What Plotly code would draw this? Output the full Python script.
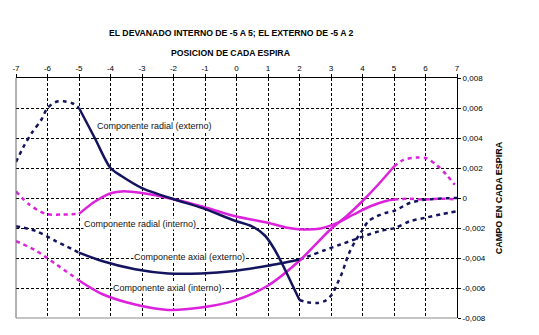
import plotly.graph_objects as go

# ---------------- data ----------------
# Componente radial (externo) - navy
rad_ext_pre_x = [-7, -6.74, -6.48, -6.2, -6.0, -5.74, -5.48, -5.2, -5.0]
rad_ext_pre_y = [0.0024, 0.0035, 0.0044, 0.0052, 0.0060, 0.0064, 0.00645, 0.0063, 0.0060]
rad_ext_x = [-5.0, -4.5, -4.0, -3.64, -3.0, -1.96, -1.1, -0.07, 0.5, 0.9, 1.2, 1.5, 1.75, 2.0]
rad_ext_y = [0.0060, 0.0040, 0.0020, 0.00145, 0.00066, -0.0001, -0.00066, -0.0015, -0.0019, -0.0025, -0.0034, -0.0046, -0.0057, -0.0068]
rad_ext_post_x = [2.0, 2.25, 2.56, 2.83, 3.04, 3.2, 3.35, 3.56, 3.77, 3.98, 4.19, 4.46, 4.72, 5.03, 5.5, 6.03, 7.0]
rad_ext_post_y = [-0.0068, -0.00695, -0.0070, -0.00684, -0.0064, -0.0057, -0.0050, -0.00375, -0.00287, -0.0022, -0.00154, -0.00121, -0.0010, -0.00084, -0.00033, -0.0001, 0.0]

# Componente axial (externo) - navy
ax_ext_pre_x = [-7, -6.37, -5.74, -5.0]
ax_ext_pre_y = [-0.00188, -0.0022, -0.00287, -0.00364]
ax_ext_x = [-5.0, -4.27, -3.22, -2.17, -1.12, -0.07, 0.99, 2.0]
ax_ext_y = [-0.00364, -0.0042, -0.00475, -0.00503, -0.00503, -0.00486, -0.00452, -0.0041]
ax_ext_post_x = [2.0, 2.35, 2.77, 3.3, 4.25, 4.56, 5.03, 5.5, 6.03, 6.55, 7.0]
ax_ext_post_y = [-0.0041, -0.00384, -0.0035, -0.0031, -0.0024, -0.0022, -0.0020, -0.00155, -0.0013, -0.00106, -0.00088]

# Componente radial (interno) - magenta
rad_int_pre_x = [-7, -6.58, -6.06, -5.53, -5.0]
rad_int_pre_y = [0.00044, -0.00044, -0.00106, -0.0011, -0.00106]
rad_int_x = [-5.0, -4.48, -3.96, -3.64, -3.0, -1.96, -1.12, -0.07, 0.99, 1.62, 2.14, 2.67, 3.2, 3.72, 4.25, 4.77, 5.0]
rad_int_y = [-0.00106, -0.00022, 0.00033, 0.00044, 0.00033, -0.0001, -0.00055, -0.0012, -0.00165, -0.00199, -0.0021, -0.00203, -0.00166, -0.0011, -0.00055, -0.00018, -0.0001]
rad_int_post_x = [5.0, 5.5, 6.0, 6.5, 7.0]
rad_int_post_y = [-0.0001, -0.00005, -0.0001, -0.00005, -0.0001]

# Componente axial (interno) - magenta
ax_int_pre_x = [-7, -6.37, -5.74, -5.0]
ax_int_pre_y = [-0.00287, -0.0035, -0.0044, -0.0055]
ax_int_x = [-5.0, -4.27, -3.22, -2.17, -1.12, -0.07, 0.99, 2.04, 2.98, 3.5, 4.0, 4.5, 5.0]
ax_int_y = [-0.0055, -0.0064, -0.0071, -0.00746, -0.0073, -0.00684, -0.00585, -0.0041, -0.0021, -0.0012, -0.0002, 0.0009, 0.0021]
ax_int_post_x = [5.0, 5.3, 5.72, 6.03, 6.35, 6.67, 6.93]
ax_int_post_y = [0.0021, 0.00254, 0.0027, 0.00265, 0.0022, 0.00154, 0.00088]

x_ticks = [-7, -6, -5, -4, -3, -2, -1, 0, 1, 2, 3, 4, 5, 6, 7]
x_ticklabels = ["-7", "-6", "-5", "-4", "-3", "-2", "-1", "0", "1", "2", "3", "4", "5", "6", "7"]
y_ticks = [0.008, 0.006, 0.004, 0.002, 0, -0.002, -0.004, -0.006, -0.008]
y_ticklabels = ["0,008", "0,006", "0,004", "0,002", "0", "-0,002", "-0,004", "-0,006", "-0,008"]

label_text = ["Componente radial (externo)", "Componente radial (interno)",
              "Componente axial (externo)", "Componente axial (interno)"]
label_x = [-2.6, -3.07, -1.5, -2.2]
label_y = [0.00483, -0.00172, -0.0039, -0.0060]

title1 = "EL DEVANADO INTERNO DE -5 A 5; EL EXTERNO DE -5 A 2"
title2 = "POSICION DE CADA ESPIRA"
y_title = "CAMPO EN CADA ESPIRA"

NAVY = "#14145e"
MAG = "#dd22dd"
FONT = "Liberation Sans, Arial"

# plot-area pixel geometry (for paper coordinates of titles)
PL, PR, PT, PB = 14, 457, 78, 320

fig = go.Figure()

def add(xs, ys, color, dashed):
    fig.add_trace(go.Scatter(x=xs, y=ys, mode="lines",
                             line=dict(color=color, width=2.5,
                                       dash="4px,4px" if dashed else "solid",
                                       shape="spline", smoothing=0.8),
                             showlegend=False, hoverinfo="skip"))

add(rad_ext_pre_x, rad_ext_pre_y, NAVY, True)
add(rad_ext_post_x, rad_ext_post_y, NAVY, True)
add(ax_ext_pre_x, ax_ext_pre_y, NAVY, True)
add(ax_ext_post_x, ax_ext_post_y, NAVY, True)
add(rad_int_pre_x, rad_int_pre_y, MAG, True)
add(rad_int_post_x, rad_int_post_y, MAG, True)
add(ax_int_pre_x, ax_int_pre_y, MAG, True)
add(ax_int_post_x, ax_int_post_y, MAG, True)
add(rad_int_x, rad_int_y, MAG, False)
add(ax_int_x, ax_int_y, MAG, False)
add(rad_ext_x, rad_ext_y, NAVY, False)
add(ax_ext_x, ax_ext_y, NAVY, False)

for t, lx, ly in zip(label_text, label_x, label_y):
    fig.add_annotation(x=lx, y=ly, xref="x", yref="y", text=t, showarrow=False,
                       font=dict(family=FONT, size=9, color="#111111"),
                       bgcolor="white", borderpad=0)

cx = (230 - PL) / (PR - PL)
fig.add_annotation(xref="paper", yref="paper", x=cx, y=(PB - 33) / (PB - PT),
                   xanchor="center", yanchor="middle",
                   text="<b>" + title1 + "</b>", showarrow=False,
                   font=dict(family=FONT, size=8.7, color="black"))
fig.add_annotation(xref="paper", yref="paper", x=cx, y=(PB - 53) / (PB - PT),
                   xanchor="center", yanchor="middle",
                   text="<b>" + title2 + "</b>", showarrow=False,
                   font=dict(family=FONT, size=8.7, color="black"))

fig.update_layout(
    width=539, height=335,
    margin=dict(l=PL, r=539 - PR, t=PT, b=335 - PB),
    paper_bgcolor="white", plot_bgcolor="white",
    font=dict(family=FONT, size=8, color="black"),
    xaxis=dict(side="top", range=[-7, 7], tickvals=x_ticks, ticktext=x_ticklabels,
               showgrid=True, gridcolor="black", gridwidth=1, griddash="3px,2px",
               showline=True, linecolor="black", linewidth=1, mirror=False,
               ticks="outside", ticklen=3, tickcolor="black",
               zeroline=False, tickfont=dict(family=FONT, size=8)),
    yaxis=dict(side="right", range=[-0.008, 0.008], tickvals=y_ticks, ticktext=y_ticklabels,
               showgrid=True, gridcolor="black", gridwidth=1, griddash="3px,2px",
               showline=True, linecolor="black", linewidth=1, mirror=False,
               ticks="outside", ticklen=3, tickcolor="black",
               zeroline=False, tickfont=dict(family=FONT, size=8),
               title=dict(text="<b>" + y_title + "</b>", font=dict(family=FONT, size=9), standoff=10)),
)
# left and bottom frame lines (gray)
fig.add_shape(type="line", xref="paper", yref="paper", x0=0, x1=0, y0=0, y1=1,
              line=dict(color="#666666", width=1))
fig.add_shape(type="line", xref="paper", yref="paper", x0=0, x1=1, y0=0, y1=0,
              line=dict(color="#888888", width=1))

fig.write_html("out.html")
